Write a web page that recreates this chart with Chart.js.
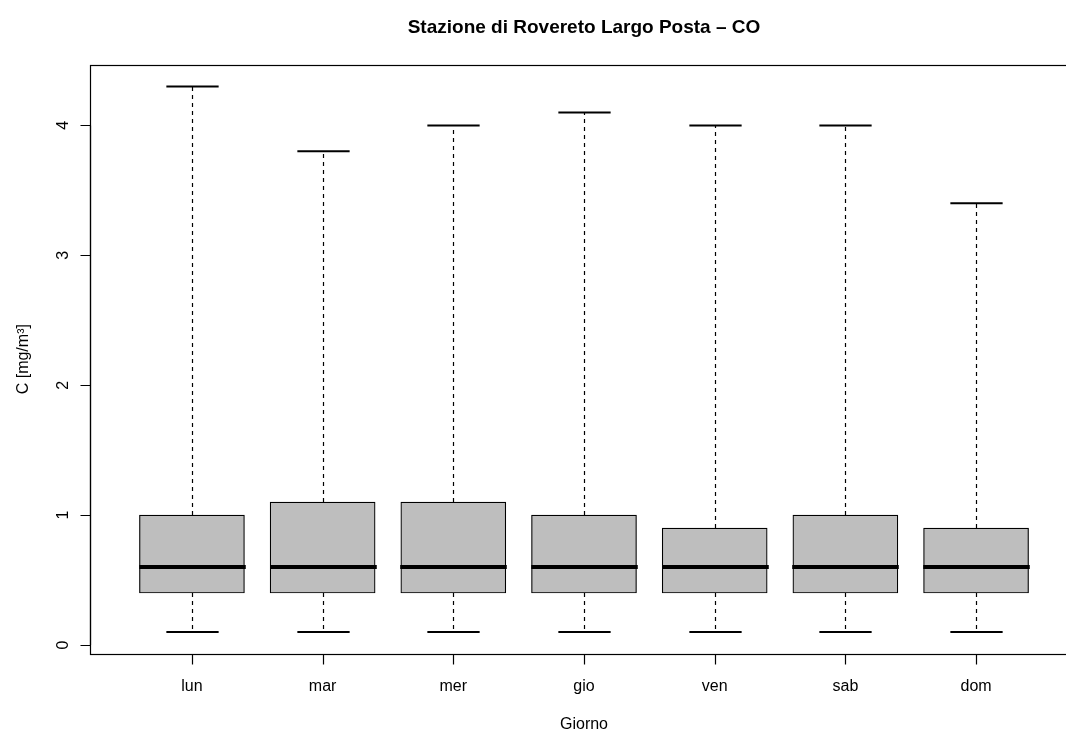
<!DOCTYPE html>
<html>
<head>
<meta charset="utf-8">
<script src="https://cdn.jsdelivr.net/npm/chart.js@4.4.1/dist/chart.umd.min.js"></script>
<style>
  html, body { margin: 0; padding: 0; background: #fff; width: 1066px; height: 731px; overflow: hidden; }
  #wrap { width: 1120px; height: 731px; }
  canvas { display: block; }
</style>
</head>
<body>
<div id="wrap"><canvas id="c" width="1120" height="731"></canvas></div>
<script>
// ---- Data ----
const days        = ['lun', 'mar', 'mer', 'gio', 'ven', 'sab', 'dom'];
const whiskerLow  = [0.1, 0.1, 0.1, 0.1, 0.1, 0.1, 0.1];
const q1          = [0.4, 0.4, 0.4, 0.4, 0.4, 0.4, 0.4];
const median      = [0.6, 0.6, 0.6, 0.6, 0.6, 0.6, 0.6];
const q3          = [1.0, 1.1, 1.1, 1.0, 0.9, 1.0, 0.9];
const whiskerHigh = [4.3, 3.8, 4.0, 4.1, 4.0, 4.0, 3.4];
const yTicks      = [0, 1, 2, 3, 4];

const titleText = 'Stazione di Rovereto Largo Posta \u2013 CO';
const xTitle = 'Giorno';
const yTitle = 'C [mg/m\u00B3]';

const FONT = '"Liberation Sans", Arial, Helvetica, sans-serif';

const rPlotDecor = {
  id: 'rPlotDecor',
  afterDatasetsDraw(chart) {
    const ctx = chart.ctx, xs = chart.scales.x, ys = chart.scales.y;
    const unit = xs.getPixelForValue(2) - xs.getPixelForValue(1);
    ctx.save();
    for (let i = 0; i < days.length; i++) {
      const cx = Math.round(xs.getPixelForValue(i + 1)) + 0.5;
      // whiskers (dashed)
      ctx.strokeStyle = '#000';
      ctx.lineWidth = 1.2;
      ctx.setLineDash([4, 4]);
      ctx.beginPath();
      ctx.moveTo(cx, ys.getPixelForValue(q3[i]));
      ctx.lineTo(cx, ys.getPixelForValue(whiskerHigh[i]));
      ctx.moveTo(cx, ys.getPixelForValue(q1[i]));
      ctx.lineTo(cx, ys.getPixelForValue(whiskerLow[i]));
      ctx.stroke();
      ctx.setLineDash([]);
      // staples
      ctx.lineWidth = 2;
      ctx.beginPath();
      const hs = 0.2 * unit;
      ctx.moveTo(cx - hs, ys.getPixelForValue(whiskerHigh[i]));
      ctx.lineTo(cx + hs, ys.getPixelForValue(whiskerHigh[i]));
      ctx.moveTo(cx - hs, ys.getPixelForValue(whiskerLow[i]));
      ctx.lineTo(cx + hs, ys.getPixelForValue(whiskerLow[i]));
      ctx.stroke();
      // median
      ctx.lineWidth = 4;
      ctx.beginPath();
      const hb = 0.4 * unit + 1;
      ctx.moveTo(cx - hb, ys.getPixelForValue(median[i]));
      ctx.lineTo(cx + hb, ys.getPixelForValue(median[i]));
      ctx.stroke();
    }
    ctx.restore();
  },
  afterDraw(chart) {
    const ctx = chart.ctx, xs = chart.scales.x, ys = chart.scales.y;
    const a = chart.chartArea;
    ctx.save();
    ctx.strokeStyle = '#000';
    ctx.lineWidth = 1.2;
    // plot frame
    ctx.strokeRect(Math.round(a.left) + 0.5, Math.round(a.top) + 0.5,
                   Math.round(a.right - a.left), Math.round(a.bottom - a.top));
    // x axis
    const yb = Math.round(a.bottom) + 0.5;
    ctx.beginPath();
    ctx.moveTo(xs.getPixelForValue(1), yb);
    ctx.lineTo(xs.getPixelForValue(days.length), yb);
    for (let i = 0; i < days.length; i++) {
      const px = Math.round(xs.getPixelForValue(i + 1)) + 0.5;
      ctx.moveTo(px, yb);
      ctx.lineTo(px, yb + 10);
    }
    // y axis
    const xl = Math.round(a.left) + 0.5;
    ctx.moveTo(xl, ys.getPixelForValue(yTicks[0]));
    ctx.lineTo(xl, ys.getPixelForValue(yTicks[yTicks.length - 1]));
    for (const t of yTicks) {
      const py = Math.round(ys.getPixelForValue(t)) + 0.5;
      ctx.moveTo(xl, py);
      ctx.lineTo(xl - 10, py);
    }
    ctx.stroke();

    ctx.fillStyle = '#000';
    // x tick labels
    ctx.font = '16px ' + FONT;
    ctx.textAlign = 'center';
    ctx.textBaseline = 'alphabetic';
    for (let i = 0; i < days.length; i++) {
      ctx.fillText(days[i], xs.getPixelForValue(i + 1), 690.5);
    }
    // y tick labels (rotated)
    for (const t of yTicks) {
      ctx.save();
      ctx.translate(67.5, ys.getPixelForValue(t));
      ctx.rotate(-Math.PI / 2);
      ctx.fillText(String(t), 0, 0);
      ctx.restore();
    }
    // axis titles
    const cxp = (a.left + a.right) / 2;
    const cyp = (a.top + a.bottom) / 2;
    ctx.fillText(xTitle, cxp, 728.5);
    ctx.save();
    ctx.translate(27.5, cyp);
    ctx.rotate(-Math.PI / 2);
    ctx.fillText(yTitle, 0, 0);
    ctx.restore();
    // main title
    ctx.font = 'bold 19px ' + FONT;
    ctx.fillText(titleText, cxp, 33);
    ctx.restore();
  }
};

new Chart(document.getElementById('c'), {
  type: 'bar',
  data: {
    datasets: [{
      data: days.map((d, i) => ({ x: i + 1, y: [q1[i], q3[i]] })),
      backgroundColor: '#BEBEBE',
      borderColor: '#000000',
      borderWidth: 1.2,
      borderSkipped: false,
      barThickness: 105
    }]
  },
  options: {
    responsive: false,
    animation: false,
    devicePixelRatio: 1,
    layout: { padding: { left: 90, right: 42, top: 64.6, bottom: 77.2 } },
    plugins: { legend: { display: false }, title: { display: false }, tooltip: { enabled: false } },
    scales: {
      x: { type: 'linear', min: 0.22, max: 7.78, offset: false, display: false, grid: { offset: false } },
      y: { type: 'linear', min: -0.068, max: 4.468, display: false }
    }
  },
  plugins: [rPlotDecor]
});
</script>
</body>
</html>
